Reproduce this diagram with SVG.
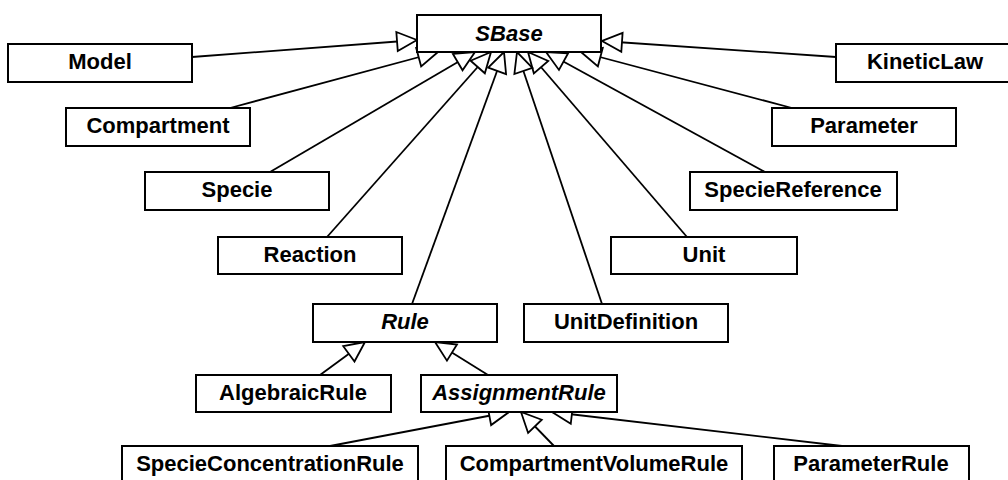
<svg xmlns="http://www.w3.org/2000/svg" width="1008" height="480" viewBox="0 0 1008 480">
<style>
.node rect{fill:#fff;stroke:#000;stroke-width:2}
.node text{font-family:"Liberation Sans",Arial,sans-serif;font-weight:bold;font-size:22px;text-anchor:middle;fill:#000}
.node text.abs{font-style:italic}
.edges line{stroke:#000;stroke-width:1.8;marker-end:url(#tri)}
</style>
<defs>
<marker id="tri" viewBox="0 0 22 22" refX="21" refY="11" markerWidth="22" markerHeight="22" markerUnits="userSpaceOnUse" orient="auto" overflow="visible">
<path d="M21,11 L1,1.5 L1,20.5 Z" fill="#fff" stroke="#000" stroke-width="1.8" stroke-linejoin="miter"/>
</marker>
</defs>
<rect width="1008" height="480" fill="#fff"/>
<g class="edges">
<line x1="192" y1="57" x2="417" y2="40"/>
<line x1="836" y1="57" x2="602" y2="41"/>
<line x1="230" y1="108" x2="438" y2="52"/>
<line x1="792" y1="108" x2="581" y2="52"/>
<line x1="270" y1="172" x2="475" y2="52"/>
<line x1="765" y1="172" x2="546" y2="52"/>
<line x1="327" y1="237" x2="491" y2="52"/>
<line x1="687" y1="237" x2="528" y2="52"/>
<line x1="412" y1="304" x2="504" y2="52"/>
<line x1="602" y1="304" x2="517" y2="52"/>
<line x1="320" y1="375" x2="365" y2="342"/>
<line x1="488" y1="375" x2="435" y2="342"/>
<line x1="330" y1="446" x2="509" y2="412"/>
<line x1="554" y1="446" x2="521" y2="412"/>
<line x1="842" y1="446" x2="552" y2="412"/>
</g>
<g id="SBase" class="node"><rect x="417" y="15" width="184" height="37"/><text class="abs" x="509" y="41">SBase</text></g>
<g id="Model" class="node"><rect x="8" y="44" width="184" height="38"/><text x="100" y="69">Model</text></g>
<g id="KineticLaw" class="node"><rect x="836" y="44" width="184" height="38"/><text x="925" y="69">KineticLaw</text></g>
<g id="Compartment" class="node"><rect x="66" y="108" width="184" height="38"/><text x="158" y="133">Compartment</text></g>
<g id="Parameter" class="node"><rect x="772" y="108" width="184" height="38"/><text x="864" y="133">Parameter</text></g>
<g id="Specie" class="node"><rect x="145" y="172" width="184" height="38"/><text x="237" y="197">Specie</text></g>
<g id="SpecieReference" class="node"><rect x="690" y="172" width="207" height="38"/><text x="793" y="197">SpecieReference</text></g>
<g id="Reaction" class="node"><rect x="218" y="237" width="184" height="37"/><text x="310" y="262">Reaction</text></g>
<g id="Unit" class="node"><rect x="611" y="237" width="186" height="37"/><text x="704" y="262">Unit</text></g>
<g id="Rule" class="node"><rect x="313" y="304" width="184" height="38"/><text class="abs" x="405" y="329">Rule</text></g>
<g id="UnitDefinition" class="node"><rect x="524" y="304" width="204" height="38"/><text x="626" y="329">UnitDefinition</text></g>
<g id="AlgebraicRule" class="node"><rect x="196" y="375" width="195" height="37"/><text x="293" y="400">AlgebraicRule</text></g>
<g id="AssignmentRule" class="node"><rect x="421" y="375" width="196" height="37"/><text class="abs" x="519" y="400">AssignmentRule</text></g>
<g id="SpecieConcentrationRule" class="node"><rect x="122" y="446" width="296" height="38"/><text x="270" y="471">SpecieConcentrationRule</text></g>
<g id="CompartmentVolumeRule" class="node"><rect x="446" y="446" width="296" height="38"/><text x="594" y="471">CompartmentVolumeRule</text></g>
<g id="ParameterRule" class="node"><rect x="774" y="446" width="195" height="38"/><text x="871" y="471">ParameterRule</text></g>
</svg>
